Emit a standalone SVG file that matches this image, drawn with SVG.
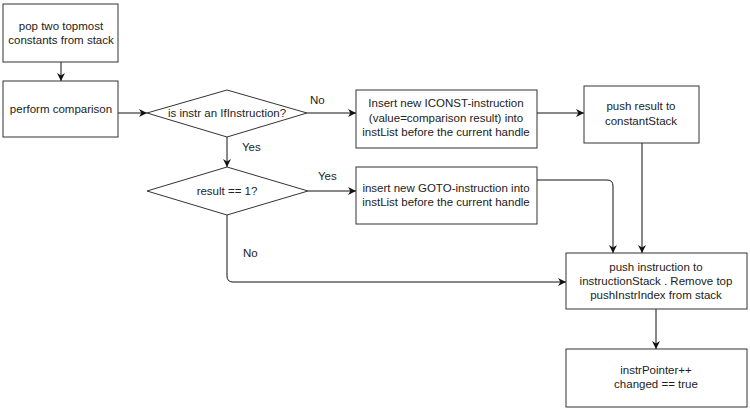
<svg xmlns="http://www.w3.org/2000/svg" width="750" height="416" viewBox="0 0 750 416">
<style>
.n{fill:#fff;stroke:#333;stroke-width:1}
.t{font-family:"Liberation Sans",Arial,sans-serif;font-size:11.5px;fill:#222;text-anchor:middle}
.c{fill:none;stroke:#111;stroke-width:1}
.l{font-family:"Liberation Sans",Arial,sans-serif;font-size:11.5px;fill:#222}
</style>
<defs>
<marker id="a" viewBox="0 0 10 10" refX="10" refY="5" markerWidth="8" markerHeight="8" markerUnits="userSpaceOnUse" orient="auto">
<path d="M0,0 L10,5 L0,10 L3,5 Z" fill="#111"/>
</marker>
</defs>
<rect width="750" height="416" fill="#fff"/>
<g id="connectors">
<path class="c" d="M61,62 V81" marker-end="url(#a)"/>
<path class="c" d="M118,113 H147" marker-end="url(#a)"/>
<path class="c" d="M307,113 H356" marker-end="url(#a)"/>
<path class="c" d="M537,113 H584" marker-end="url(#a)"/>
<path class="c" d="M227,137 V167" marker-end="url(#a)"/>
<path class="c" d="M308,191 H356" marker-end="url(#a)"/>
<path class="c" d="M537,180 H607 Q613,180 613,186 V253" marker-end="url(#a)"/>
<path class="c" d="M642,143 V253" marker-end="url(#a)"/>
<path class="c" d="M227,215 V276 Q227,282 233,282 H566" marker-end="url(#a)"/>
<path class="c" d="M656,309 V349" marker-end="url(#a)"/>
<text class="l" x="310" y="104">No</text>
<text class="l" x="242" y="151">Yes</text>
<text class="l" x="318" y="180">Yes</text>
<text class="l" x="243" y="257">No</text>
</g>
<g id="pop">
<rect class="n" x="3" y="4" width="115" height="58"/>
<text class="t" x="61" y="30">pop two topmost</text>
<text class="t" x="61" y="44">constants from stack</text>
</g>
<g id="perform">
<rect class="n" x="3" y="81" width="115" height="56"/>
<text class="t" x="61" y="113">perform comparison</text>
</g>
<g id="isif">
<path class="n" d="M147,113 L227,90 L307,113 L227,137 Z"/>
<text class="t" x="227" y="117">is instr an IfInstruction?</text>
</g>
<g id="iconst">
<rect class="n" x="356" y="90" width="181" height="58"/>
<text class="t" x="446" y="107">Insert new ICONST-instruction</text>
<text class="t" x="446" y="122">(value=comparison result) into</text>
<text class="t" x="446" y="136">instList before the current handle</text>
</g>
<g id="pushresult">
<rect class="n" x="584" y="86" width="115" height="57"/>
<text class="t" x="641" y="110">push result to</text>
<text class="t" x="641" y="125">constantStack</text>
</g>
<g id="result1">
<path class="n" d="M147,191 L227,167 L308,191 L227,215 Z"/>
<text class="t" x="227" y="195">result == 1?</text>
</g>
<g id="goto">
<rect class="n" x="356" y="167" width="181" height="57"/>
<text class="t" x="446" y="192">insert new GOTO-instruction into</text>
<text class="t" x="446" y="206">instList before the current handle</text>
</g>
<g id="pushinstr">
<rect class="n" x="566" y="253" width="181" height="56"/>
<text class="t" x="656" y="271">push instruction to</text>
<text class="t" x="656" y="285">instructionStack . Remove top</text>
<text class="t" x="656" y="299">pushInstrIndex from stack</text>
</g>
<g id="instrptr">
<rect class="n" x="566" y="349" width="181" height="58"/>
<text class="t" x="656" y="374">instrPointer++</text>
<text class="t" x="656" y="388">changed == true</text>
</g>
</svg>
